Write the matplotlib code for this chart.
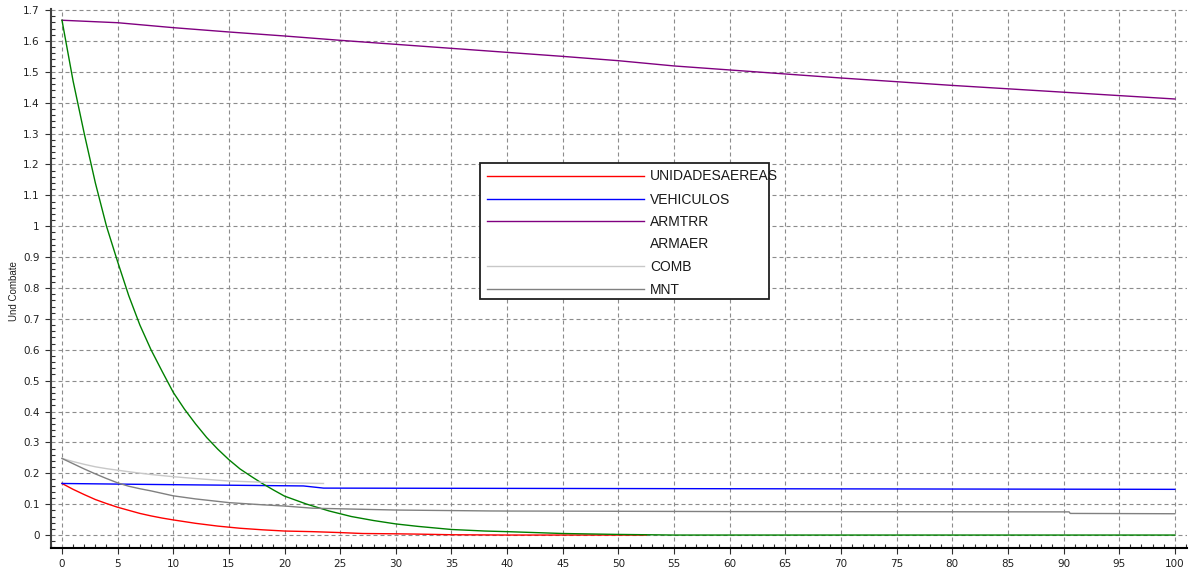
import numpy as np
import matplotlib
matplotlib.use("Agg")
import matplotlib.pyplot as plt
from matplotlib.lines import Line2D
from matplotlib.patches import Rectangle
from matplotlib.ticker import MultipleLocator, FuncFormatter

# series (time step, combat units)
x_unid = [0, 1, 2, 3, 4, 5, 6, 7, 8, 9, 10, 12, 14, 16, 18, 20, 22.5, 25, 27, 30, 32, 35, 40, 45, 52.5]
y_unid = [0.167, 0.148, 0.131, 0.115, 0.102, 0.090, 0.080, 0.070, 0.062, 0.055, 0.049,
          0.038, 0.029, 0.022, 0.017, 0.013, 0.011, 0.008, 0.005, 0.004, 0.003, 0.001, 0.0, 0.0, 0.0]

x_veh = [0, 7.5, 21.7, 23.5, 60, 100]
y_veh = [0.167, 0.164, 0.159, 0.152, 0.150, 0.148]

x_armtrr = [0, 5, 10, 15, 20, 25, 30, 35, 40, 45, 50, 55, 60, 65, 70, 75, 80, 85, 90, 95, 100]
y_armtrr = [1.667, 1.659, 1.643, 1.629, 1.616, 1.602, 1.589, 1.576, 1.563, 1.550, 1.536,
            1.519, 1.506, 1.493, 1.480, 1.468, 1.456, 1.445, 1.434, 1.423, 1.412]

x_armaer = [0, 1, 2, 3, 4, 5, 6, 7, 8, 9, 10, 11, 12, 13, 14, 15, 16, 17, 18, 19, 20,
            22, 24, 26, 28, 30, 32, 35, 38, 40, 45, 50, 55, 100]
y_armaer = [1.667, 1.47, 1.30, 1.14, 1.0, 0.885, 0.775, 0.68, 0.60, 0.53, 0.462, 0.408,
            0.36, 0.316, 0.278, 0.244, 0.214, 0.19, 0.167, 0.146, 0.126, 0.10, 0.078,
            0.06, 0.047, 0.036, 0.028, 0.018, 0.013, 0.011, 0.005, 0.002, 0.0, 0.0]

x_comb = [0, 1, 2, 3, 4, 5, 6, 8, 10, 12, 15, 18, 20, 22, 23.5]
y_comb = [0.248, 0.238, 0.229, 0.221, 0.215, 0.210, 0.205, 0.196, 0.189, 0.183,
          0.175, 0.171, 0.169, 0.168, 0.167]

x_mnt = [0, 1, 2, 3, 4, 5, 6, 7, 8, 9, 10, 12, 15, 18, 20, 22.5, 30, 38.5, 60, 90.5, 90.6, 100]
y_mnt = [0.248, 0.231, 0.214, 0.198, 0.183, 0.169, 0.158, 0.150, 0.143, 0.135, 0.127,
         0.117, 0.105, 0.098, 0.094, 0.087, 0.081, 0.078, 0.076, 0.075, 0.070, 0.069]

labels = ["UNIDADESAEREAS", "VEHICULOS", "ARMTRR", "ARMAER", "COMB", "MNT"]
colors = ["#ff0000", "#0000ff", "#800080", "#008000", "#c8c8c8", "#808080"]

W, H = 1191, 574
fig = plt.figure(figsize=(W / 100, H / 100), dpi=100)
ax = fig.add_axes([0.0427, 0.0458, 0.9540, 0.9383])

series = [(x_unid, y_unid), (x_veh, y_veh), (x_armtrr, y_armtrr),
          (x_armaer, y_armaer), (x_comb, y_comb), (x_mnt, y_mnt)]
order = [3, 4, 5, 0, 2, 1]
for i in order:
    xs, ys = series[i]
    ax.plot(xs, ys, color=colors[i], lw=1.0, zorder=3 + i * 0.1)

ax.set_xlim(-1, 101.1)
ax.set_ylim(-0.041, 1.703)

ax.xaxis.set_major_locator(MultipleLocator(5))
ax.xaxis.set_minor_locator(MultipleLocator(1))
ax.yaxis.set_major_locator(MultipleLocator(0.1))
ax.yaxis.set_minor_locator(MultipleLocator(0.02))
ax.yaxis.set_major_formatter(FuncFormatter(lambda v, p: "%g" % round(v, 2)))

ax.grid(True, which="major", color="#8c8c8c", lw=0.8, linestyle=(0, (3.6, 2.7)))

for s in ("top", "right"):
    ax.spines[s].set_visible(False)
ax.spines["left"].set_color("#404040")
ax.spines["left"].set_linewidth(1.5)
ax.spines["bottom"].set_color("#000000")
ax.spines["bottom"].set_linewidth(1.5)

ax.tick_params(axis="both", which="major", direction="out", length=4, width=0.8,
               color="#303030", labelcolor="#202020", labelsize=7.5, pad=4)
ax.tick_params(axis="both", which="minor", direction="in", length=3, width=0.8,
               color="#303030")
for lab in ax.get_xticklabels() + ax.get_yticklabels():
    lab.set_family("DejaVu Sans")

fig.text(14 / W, 1 - 291 / H, "Und Combate", rotation=90, ha="center", va="center",
         family="Liberation Sans", fontsize=7, color="#202020")

# legend box drawn in figure pixels
def px(x, y):
    return x / W, 1 - y / H

x0, y0 = px(480, 299)
x1, y1 = px(769, 163)
fig.add_artist(Rectangle((x0, y0), x1 - x0, y1 - y0, transform=fig.transFigure,
                         facecolor="white", edgecolor="#202020", lw=1.3, zorder=10))
rows = [175.5, 198.5, 221, 243.5, 266, 288.5]
for lab, col, ry in zip(labels, colors, rows):
    if lab != "ARMAER":
        lx0, ly = px(487, ry)
        lx1, _ = px(644, ry)
        fig.add_artist(Line2D([lx0, lx1], [ly, ly], transform=fig.transFigure,
                              color=col, lw=1.0, zorder=11))
    tx, ty = px(650, ry + 5)
    fig.text(tx, ty, lab, ha="left", va="baseline", family="Liberation Sans",
             fontsize=10, color="#1a1a1a", zorder=12)

fig.savefig("out.png", dpi=100)
